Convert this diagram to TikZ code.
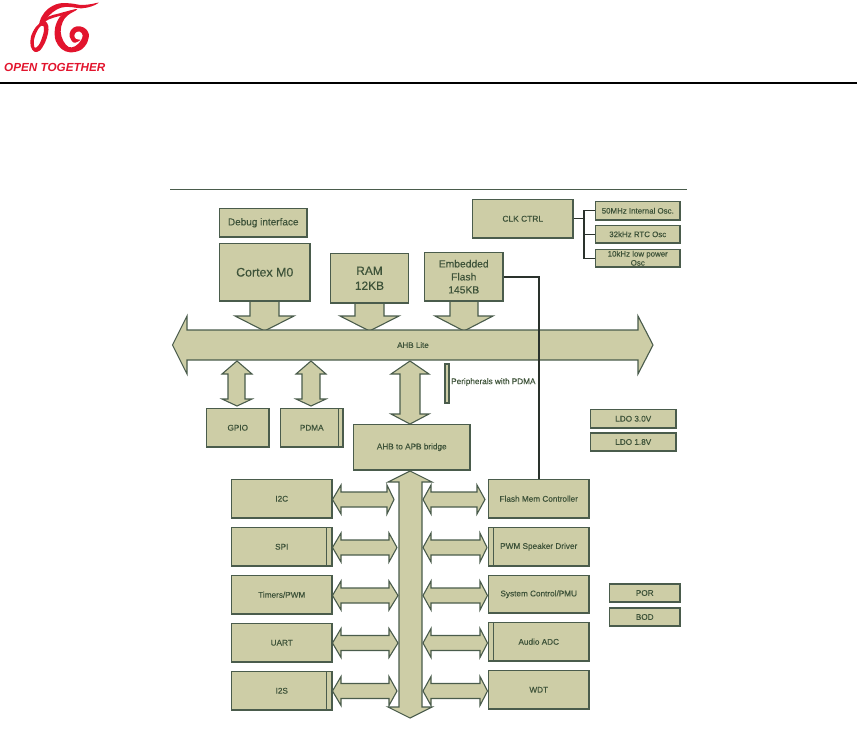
\documentclass[tikz,border=0pt]{standalone}
\usepackage{fontspec}
\setmainfont{Liberation Sans}
\newfontfamily\lblfont[FakeBold=0.3]{Liberation Sans}
\definecolor{blockfill}{HTML}{CDCDA6}
\definecolor{blockline}{HTML}{4A5C4C}
\definecolor{blocktext}{HTML}{3E5339}
\definecolor{wirecol}{HTML}{2A322C}
\definecolor{logored}{HTML}{E2142D}
\newcommand{\fs}[2]{\fontsize{#1}{#2}\selectfont\lblfont}
\tikzset{
  box/.style={draw=blockline,fill=blockfill,line width=1.1pt,inner sep=0pt,align=center,text=blocktext,font=\fs{8.2}{9.5}},
  blockarrow/.style={draw=blockline,fill=blockfill,line width=1.1pt,line join=miter},
  divider/.style={draw=blockline,line width=1.1pt},
  wire/.style={draw=wirecol,line width=1.1pt},
  logo/.style={fill=logored,draw=none},
}
% box: name, x1,y1,x2,y2, style, text
\newcommand{\bx}[7]{%
  \pgfmathsetmacro{\bw}{#4-#2}\pgfmathsetmacro{\bh}{#5-#3}%
  \node[box,#6,minimum width=\bw pt,minimum height=\bh pt] (#1) at ({(#2+#4)/2},{(#3+#5)/2}) {#7};}
% down arrow into the bus: shaft left, shaft right, top, wing y, wing left, wing right, tip y
\newcommand{\dnarrow}[7]{%
  \path[blockarrow] (#1,#3) -- (#1,#4) -- (#5,#4) -- ({(#5+#6)/2},#7) -- (#6,#4) -- (#2,#4) -- (#2,#3) -- cycle;}
% vertical double arrow: shaft l, r, wing l, r, top tip, top wing, bottom wing, bottom tip
\newcommand{\vdbl}[8]{%
  \path[blockarrow] ({(#3+#4)/2},#5) -- (#4,#6) -- (#2,#6) -- (#2,#7) -- (#4,#7) -- ({(#3+#4)/2},#8) -- (#3,#7) -- (#1,#7) -- (#1,#6) -- (#3,#6) -- cycle;}
% horizontal double arrow: left tip, left back, right back, right tip, centre y, half shaft, half head
\newcommand{\hdbl}[7]{%
  \path[blockarrow] (#1,#5) -- (#2,{#5-#7}) -- (#2,{#5-#6}) -- (#3,{#5-#6}) -- (#3,{#5-#7}) -- (#4,#5) -- (#3,{#5+#7}) -- (#3,{#5+#6}) -- (#2,{#5+#6}) -- (#2,{#5+#7}) -- cycle;}
\begin{document}
\begin{tikzpicture}[x=1pt,y=-1pt]
\useasboundingbox (0,0) rectangle (857,745);
% logo
\begin{scope}[shift={(25,0)},x=0.3333pt,y=-0.3333pt]
  \fill[logo] plot[smooth cycle,tension=0.6] coordinates {(42,76)(50,50)(70,26)(100,11)(135,10)(170,15)(200,12)(221,8)(200,19)(170,25)(135,21)(108,23)(84,36)(64,56)(50,76)};
  \fill[logo,even odd rule] plot[smooth cycle,tension=0.6] coordinates {(52,64)(32,82)(18,110)(17,138)(28,155)(44,152)(60,128)(69,100)(70,78)(62,64)}
     plot[smooth cycle,tension=0.6] coordinates {(45,80)(34,98)(27,120)(29,143)(41,136)(51,114)(57,92)(55,78)};
  \fill[logo] plot[smooth cycle,tension=0.6] coordinates {(44,74)(70,50)(100,41)(125,34)(157,27)(127,42)(100,49)(72,58)};
  \fill[logo] plot[smooth cycle,tension=0.6] coordinates {(157,28)(125,36)(103,53)(90,85)(92,122)(110,147)(135,157)(167,150)(187,127)(191,100)(177,83)(155,79)(138,90)(134,110)(147,128)(166,120)(153,117)(148,107)(153,97)(165,95)(173,106)(167,123)(150,139)(131,141)(115,123)(107,95)(113,66)(128,46)};
\end{scope}
\node[anchor=base west,inner sep=0pt,text=logored,font=\fontsize{11.7}{12}\selectfont\bfseries\itshape] (brand) at (4,71) {OPEN TOGETHER};
% rules
\coordinate (ruleL) at (0,83);
\coordinate (ruleR) at (857,83);
\draw[black,line width=1.8pt] (ruleL) -- (ruleR);
\coordinate (topL) at (170,189.5);
\coordinate (topR) at (687,189.5);
\draw[blockline,line width=1.2pt] (topL) -- (topR);

% block arrows into the bus
\dnarrow{250}{279}{301}{316}{235}{294}{331}
\dnarrow{355}{384}{303}{316}{340}{399}{331}
\dnarrow{450}{478}{301}{316}{435}{493}{331}
% top boxes
\bx{debug}{219.5}{208.5}{307}{237}{font=\fs{10}{12}}{Debug interface}
\bx{cortex}{219.5}{243.5}{310}{301}{font=\fs{12.4}{15}}{Cortex M0}
\bx{ram}{330.5}{253.5}{408.5}{303}{font=\fs{11.9}{15}}{RAM\\12KB}
\bx{eflash}{424.5}{252.5}{503}{301}{font=\fs{10.3}{13}}{Embedded\\Flash\\145KB}
% main bus
\path[blockarrow] (172.5,345) -- (187,316) -- (187,330) -- (638,330) -- (638,316) -- (653,345) -- (638,374) -- (638,360) -- (187,360) -- (187,374) -- cycle;
\node[text=blocktext,font=\fs{8}{9},inner sep=0pt] (ahb) at (413,345) {AHB Lite};
% clock
\bx{clk}{472.5}{199.5}{573}{238}{font=\fs{8.4}{10}}{CLK CTRL}
\bx{osca}{595.5}{201.5}{680}{220}{font=\fs{7.9}{9}}{50MHz Internal Osc.}
\bx{oscb}{595.5}{225.5}{680}{243}{font=\fs{7.9}{9}}{32kHz RTC Osc}
\bx{oscc}{595.5}{249.5}{680}{267}{font=\fs{7.9}{9}}{10kHz low power\\Osc}
\coordinate (clkj) at (584,218.5);
\draw[wire] (clk.east |- clkj) -- (clkj);
\draw[wire] (clkj) |- (osca.west);
\draw[wire] (clkj) |- (oscb.west);
\draw[wire] (clkj) |- (oscc.west);
% vertical arrows under the bus
\vdbl{228}{245}{222}{252}{361}{374}{399}{406}
\vdbl{302}{320}{296}{326}{361}{374}{399}{406}
\vdbl{400}{420}{391}{429}{361}{374}{414}{424}
% bar + label
\bx{pbar}{445}{364}{449}{403}{}{}
\node[anchor=west,inner sep=0pt,text=blocktext,font=\fs{8.2}{9}] (plabel) at (451,382) {Peripherals with PDMA};
% mid boxes
\bx{gpio}{206.5}{408.5}{269}{447}{}{GPIO}
\bx{pdma}{280.5}{408.5}{343}{447}{}{PDMA}
\draw[divider] (338.5,408.5) -- (338.5,447);
\bx{bridge}{353.5}{424.5}{470}{470}{}{AHB to APB bridge}
% APB vertical bus
\vdbl{399}{422}{388}{432}{471}{482}{707}{718}
% left peripherals
\bx{iic}{231.5}{479.5}{332}{518}{}{I2C}
\bx{spi}{231.5}{527.5}{332}{566}{}{SPI}
\draw[divider] (326.5,527.5) -- (326.5,566);
\bx{timers}{231.5}{575.5}{332}{614}{}{Timers/PWM}
\bx{uart}{231.5}{623.5}{332}{662}{}{UART}
\bx{iis}{231.5}{671.5}{332}{710}{}{I2S}
\draw[divider] (326.5,671.5) -- (326.5,710);
% right peripherals
\bx{fmc}{488.5}{479.5}{589}{518}{}{Flash Mem Controller}
\bx{pwm}{488.5}{527.5}{589}{566}{}{PWM Speaker Driver}
\draw[divider] (493.5,527.5) -- (493.5,566);
\bx{sysc}{488.5}{575.5}{589}{613}{}{System Control/PMU}
\bx{adc}{488.5}{622.5}{589}{661}{}{Audio ADC}
\draw[divider] (493.5,622.5) -- (493.5,661);
\bx{wdt}{488.5}{670.5}{589}{709}{}{WDT}
% horizontal double arrows
\hdbl{332.5}{341}{387}{394}{499.5}{7.5}{14.5}
\hdbl{332.5}{341}{389}{397}{547.5}{7.5}{14.5}
\hdbl{332.5}{341}{389}{398}{595.5}{7.5}{14.5}
\hdbl{332.5}{341}{389}{398}{643}{7.5}{14.5}
\hdbl{332.5}{341}{389}{397}{691}{7.5}{14.5}
\hdbl{423}{431}{477}{485}{499.5}{7.5}{14.5}
\hdbl{423}{431}{480}{487}{547.5}{7.5}{14.5}
\hdbl{423}{431}{480}{487.5}{595.5}{7.5}{14.5}
\hdbl{423}{431}{480}{487.5}{643}{7.5}{14.5}
\hdbl{423}{431}{480}{487.5}{691}{7.5}{14.5}
% flash wire
\coordinate (fbend) at (539,277);
\draw[wire] (eflash.east |- fbend) -- (fbend) -- (fbend |- fmc.north);
% power boxes
\bx{ldoa}{590.5}{409.5}{676}{428}{}{LDO 3.0V}
\bx{ldob}{590.5}{433}{676}{451}{}{LDO 1.8V}
\bx{por}{609.5}{584}{680}{602}{}{POR}
\bx{bod}{609.5}{608}{680}{626}{}{BOD}
\end{tikzpicture}
\end{document}
